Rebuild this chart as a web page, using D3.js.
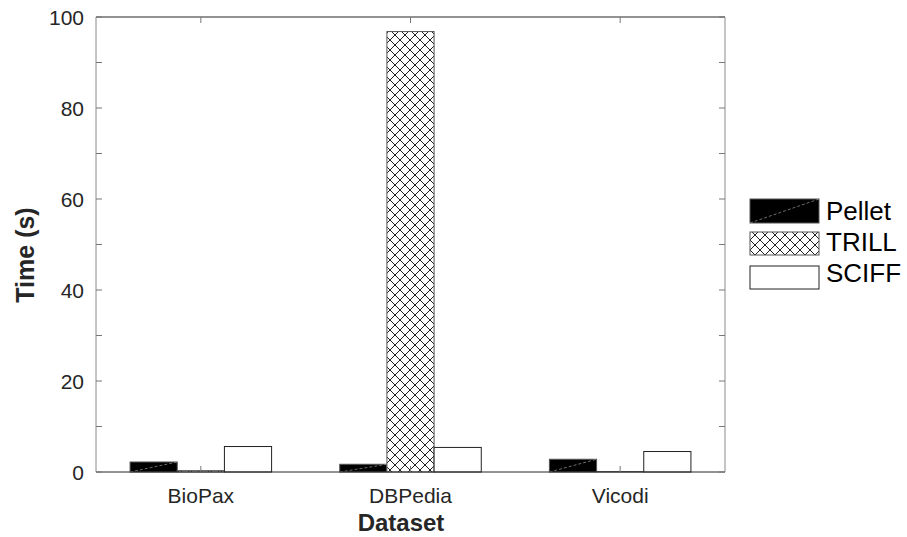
<!DOCTYPE html>
<html><head><meta charset="utf-8">
<script src="https://cdn.jsdelivr.net/npm/d3@7"></script>
<style>body{margin:0;background:#fff}text{font-family:"Liberation Sans",Arial,sans-serif}</style>
</head><body>
<svg id="c" width="907" height="537"></svg>
<script>
const categories = ["BioPax", "DBPedia", "Vicodi"];
const seriesNames = ["Pellet", "TRILL", "SCIFF"];
const pellet = [2.2, 1.7, 2.8];
const trill = [0.3, 96.8, 0.1];
const sciff = [5.6, 5.4, 4.5];
const yTicks = [0, 20, 40, 60, 80, 100];
const yMinor = [10, 30, 50, 70, 90];
const values = [pellet, trill, sciff];

const svg = d3.select("#c");
const L = 96, R = 725, T = 17, B = 472;
const x = d3.scaleLinear().domain([0.5, 3.5]).range([L, R]);
const y = d3.scaleLinear().domain([0, 100]).range([B, T]);
const bw = 0.225;

const defs = svg.append("defs");
const pat = defs.append("pattern").attr("id", "hatch").attr("patternUnits", "userSpaceOnUse")
  .attr("width", 10).attr("height", 10);
pat.append("rect").attr("width", 10).attr("height", 10).attr("fill", "#fff");
pat.append("path").attr("d", "M-1,-1 L11,11 M-1,11 L11,-1 M-6,4 L4,-6 M6,16 L16,6 M-6,6 L4,16 M6,-6 L16,4")
  .attr("stroke", "#222").attr("stroke-width", 1);

const fills = ["#000", "url(#hatch)", "#fff"];

// bars
values.forEach((vals, s) => {
  vals.forEach((v, i) => {
    const x0 = x(i + 1 + (s - 1.5) * bw), x1 = x(i + 1 + (s - 0.5) * bw);
    svg.append("rect").attr("x", x0).attr("y", y(v)).attr("width", x1 - x0).attr("height", y(0) - y(v))
      .attr("fill", fills[s]).attr("stroke", s === 2 ? "#222" : "#555").attr("stroke-width", 1);
    if (s === 0) {
      svg.append("line").attr("x1", x0).attr("y1", y(0)).attr("x2", x1).attr("y2", y(v))
        .attr("stroke", "#888").attr("stroke-width", 0.8).attr("stroke-dasharray", "3,2");
    }
  });
});

// frame
const frame = svg.append("g");
frame.append("line").attr("x1", L).attr("x2", R).attr("y1", T).attr("y2", T).attr("stroke", "#262626");
frame.append("line").attr("x1", L).attr("x2", R).attr("y1", B).attr("y2", B).attr("stroke", "#262626");
frame.append("line").attr("x1", L).attr("x2", L).attr("y1", T).attr("y2", B).attr("stroke", "#8a8a8a");
frame.append("line").attr("x1", R).attr("x2", R).attr("y1", T).attr("y2", B).attr("stroke", "#8a8a8a");

// y ticks
const allY = yTicks.concat(yMinor);
allY.forEach(t => {
  frame.append("line").attr("x1", L).attr("x2", L + 6).attr("y1", y(t)).attr("y2", y(t)).attr("stroke", "#777");
  frame.append("line").attr("x1", R).attr("x2", R - 6).attr("y1", y(t)).attr("y2", y(t)).attr("stroke", "#777");
});
yTicks.forEach(t => {
  svg.append("text").attr("x", 84).attr("y", y(t)).attr("dy", "0.36em").attr("text-anchor", "end")
    .attr("font-size", 21).attr("fill", "#262626").text(t);
});
// x ticks
categories.forEach((c, i) => {
  frame.append("line").attr("x1", x(i + 1)).attr("x2", x(i + 1)).attr("y1", B).attr("y2", B - 6).attr("stroke", "#777");
  frame.append("line").attr("x1", x(i + 1)).attr("x2", x(i + 1)).attr("y1", T).attr("y2", T + 6).attr("stroke", "#777");
  svg.append("text").attr("x", x(i + 1)).attr("y", 503).attr("text-anchor", "middle")
    .attr("font-size", 21).attr("fill", "#262626").text(c);
});

svg.append("text").attr("x", 401).attr("y", 531).attr("text-anchor", "middle")
  .attr("font-size", 24).attr("font-weight", "bold").attr("fill", "#262626").text("Dataset");
svg.append("text").attr("transform", "translate(34,255) rotate(-90)").attr("text-anchor", "middle")
  .attr("font-size", 25).attr("font-weight", "bold").attr("fill", "#262626").text("Time (s)");

// legend
const legY = [199, 232, 266];
const legH = [24, 23, 23];
const legBase = [220, 251, 282];
seriesNames.forEach((n, s) => {
  svg.append("rect").attr("x", 750).attr("y", legY[s]).attr("width", 69).attr("height", legH[s])
    .attr("fill", fills[s]).attr("stroke", s === 2 ? "#222" : "#555");
  if (s === 0) {
    svg.append("line").attr("x1", 750).attr("y1", legY[s] + legH[s]).attr("x2", 819).attr("y2", legY[s])
      .attr("stroke", "#888").attr("stroke-width", 0.8).attr("stroke-dasharray", "3,2");
  }
  svg.append("text").attr("x", 826).attr("y", legBase[s])
    .attr("font-size", 26).attr("fill", "#000").text(n);
});
</script>
</body></html>
